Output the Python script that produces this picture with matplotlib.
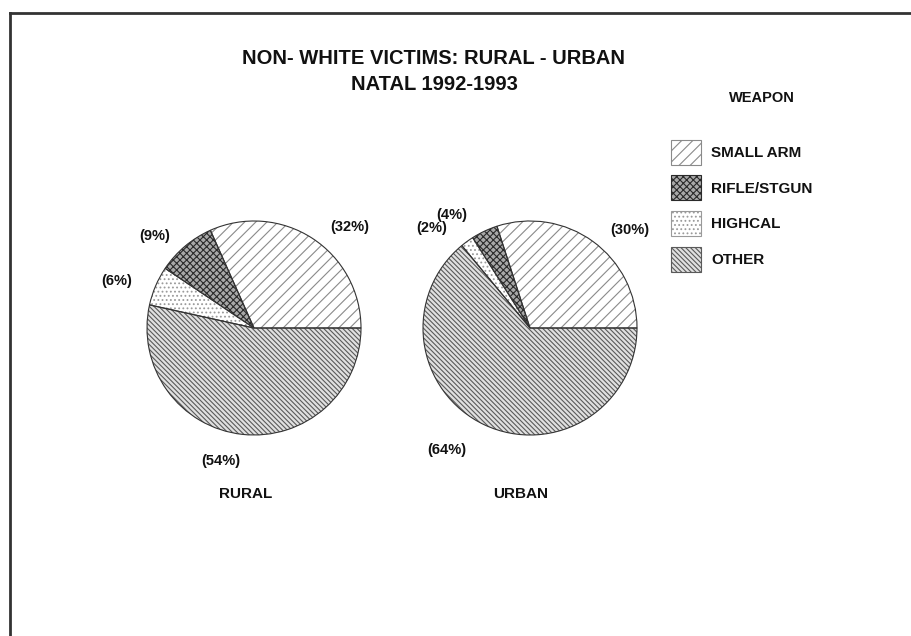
import matplotlib
matplotlib.use("Agg")
import matplotlib.pyplot as plt
from matplotlib.patches import Patch
from matplotlib.lines import Line2D

plt.rcParams['font.family'] = ['Liberation Sans', 'DejaVu Sans']
plt.rcParams['hatch.linewidth'] = 0.8

# ---- data ----
weapons = ["SMALL ARM", "RIFLE/STGUN", "HIGHCAL", "OTHER"]
rural = [32, 9, 6, 54]
urban = [30, 4, 2, 64]
pie_names = ["RURAL", "URBAN"]
title1 = "NON- WHITE VICTIMS: RURAL - URBAN"
title2 = "NATAL 1992-1993"
legend_title = "WEAPON"

# ---- styles ----
hatches = ["///", "xxxxx", "....", "\\\\\\\\\\\\\\"]
hatch_colors = ["#8a8a8a", "#2a2a2a", "#9a9a9a", "#5a5a5a"]
face_colors = ["white", "#a8a8a8", "white", "#e0e0e0"]

W, H = 911, 636
fig = plt.figure(figsize=(W / 100, H / 100), dpi=100)
ax = fig.add_axes([0, 0, 1, 1])


def py(y):
    return H - y


centers = [(254, py(328)), (530, py(328))]
radius = 107

for vals, c in zip([rural, urban], centers):
    wedges, _ = ax.pie(vals, startangle=0, counterclock=True, center=c,
                       radius=radius, colors=face_colors, frame=True,
                       wedgeprops=dict(linewidth=0))
    for w, h, hc in zip(wedges, hatches, hatch_colors):
        w.set_hatch(h)
        w.set_edgecolor(hc)
    ax.pie(vals, startangle=0, counterclock=True, center=c, radius=radius,
           colors=["none"] * 4, frame=True,
           wedgeprops=dict(linewidth=0.8, edgecolor="#333333", fill=False))

ax.set_xlim(0, W)
ax.set_ylim(0, H)
ax.set_aspect("auto")
ax.axis("off")

# percentage labels
rural_lbl_pos = [(350, 227), (155, 236), (117, 281), (221, 461)]
urban_lbl_pos = [(630, 230), (452, 215), (432, 228), (447, 450)]
for vals, poss in [(rural, rural_lbl_pos), (urban, urban_lbl_pos)]:
    for v, (x, y) in zip(vals, poss):
        ax.text(x, py(y), f"({v}%)", ha="center", va="center",
                fontsize=10.5, fontweight="bold", color="#111111")

# pie names
for name, x in zip(pie_names, [246, 521]):
    ax.text(x, py(494), name, ha="center", va="center", fontsize=11,
            fontweight="bold", color="#111111")

# titles
ax.text(434, py(59), title1, ha="center", va="center", fontsize=14.5,
        fontweight="bold", color="#111111")
ax.text(434, py(85), title2, ha="center", va="center", fontsize=14.5,
        fontweight="bold", color="#111111")

# legend
handles = [Patch(facecolor=fc, edgecolor=hc, hatch=h, linewidth=0.8)
           for fc, hc, h in zip(face_colors, hatch_colors, hatches)]
leg = ax.legend(handles, weapons, frameon=False,
                loc="upper left", bbox_to_anchor=(660 / W, 1 - 129 / H),
                prop=dict(size=11, weight="bold"),
                handlelength=1.96, handleheight=2.14, labelspacing=0.70,
                handletextpad=0.7, borderpad=0.2)
for t in leg.get_texts():
    t.set_color("#111111")
ax.text(762, py(98), legend_title, ha="center", va="center", fontsize=10.5,
        fontweight="bold", color="#111111")

# border (top and left)
ax.add_line(Line2D([10, W], [py(13), py(13)], color="#333333", linewidth=2))
ax.add_line(Line2D([10, 10], [py(13), 0], color="#333333", linewidth=2))

fig.savefig("out.png", dpi=100)
